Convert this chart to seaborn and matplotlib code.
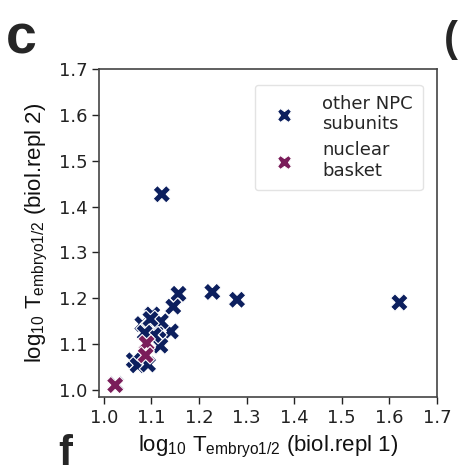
import matplotlib
matplotlib.use("Agg")
import matplotlib.pyplot as plt
import seaborn as sns
import pandas as pd

sns.set_theme(style="ticks")
plt.rcParams['font.family'] = ['DejaVu Sans']
plt.rcParams['mathtext.fontset'] = 'custom'
plt.rcParams['mathtext.rm'] = 'Liberation Sans'
plt.rcParams['mathtext.it'] = 'Liberation Sans'

other_x = [1.122, 1.621, 1.280, 1.228, 1.157, 1.146, 1.141, 1.102, 1.081, 1.107,
           1.119, 1.063, 1.071, 1.093, 1.025, 1.095, 1.115, 1.120, 1.105, 1.098, 1.086]
other_y = [1.427, 1.191, 1.197, 1.214, 1.210, 1.182, 1.128, 1.165, 1.144, 1.142,
           1.097, 1.065, 1.054, 1.056, 1.013, 1.135, 1.130, 1.150, 1.120, 1.155, 1.125]
basket_x = [1.090, 1.088, 1.024]
basket_y = [1.102, 1.076, 1.011]
groups = ["other NPC\nsubunits", "nuclear\nbasket"]
colors = ["#0c1f5e", "#7a1d5a"]

df = pd.DataFrame({
    "x": other_x + basket_x,
    "y": other_y + basket_y,
    "group": [groups[0]] * len(other_x) + [groups[1]] * len(basket_x),
})

fig = plt.figure(figsize=(4.59, 4.76), dpi=100)
ax = fig.add_axes([99 / 459, 1 - 397 / 476, (437 - 99) / 459, (397 - 69) / 476])
sns.scatterplot(data=df, x="x", y="y", hue="group", palette=colors, marker="X",
                s=160, edgecolor="white", linewidth=0.8, ax=ax, legend=True)

ax.set_xlim(0.99, 1.70)
ax.set_ylim(0.985, 1.70)
ticks = [1.0, 1.1, 1.2, 1.3, 1.4, 1.5, 1.6, 1.7]
ax.set_xticks(ticks)
ax.set_yticks(ticks)
ax.set_xticklabels([f"{t:.1f}" for t in ticks])
ax.set_yticklabels([f"{t:.1f}" for t in ticks])
ax.tick_params(labelsize=13, length=5, width=1, colors="#222222")
for sp in ax.spines.values():
    sp.set_color("#444444")
    sp.set_linewidth(1.2)

lab_font = dict(fontsize=16, family="Liberation Sans", color="#111111")
ax.set_xlabel(r'log$_{10}$ T$_{\mathrm{embryo1/2}}$ (biol.repl 1)', labelpad=5, **lab_font)
ax.set_ylabel(r'log$_{10}$ T$_{\mathrm{embryo1/2}}$ (biol.repl 2)', labelpad=6, **lab_font)

leg = ax.legend(loc="upper right", fontsize=13, frameon=True, markerscale=0.8,
                handletextpad=1.0, handlelength=2.2, borderpad=0.55, labelspacing=0.45,
                bbox_to_anchor=(0.985, 0.98))
leg.get_frame().set_edgecolor("#dddddd")

fig.text(6 / 459, 1 - 40 / 476, "c", fontsize=40, fontweight="bold",
         family="Liberation Sans", va="center", ha="left")
fig.text(444 / 459, 1 - 40 / 476, "(", fontsize=30, fontweight="bold",
         family="Liberation Sans", va="center", ha="left")
fig.text(58 / 459, 2 / 476, "f", fontsize=30, fontweight="bold",
         family="Liberation Sans", va="bottom", ha="left")

fig.savefig("out.png", dpi=100)
